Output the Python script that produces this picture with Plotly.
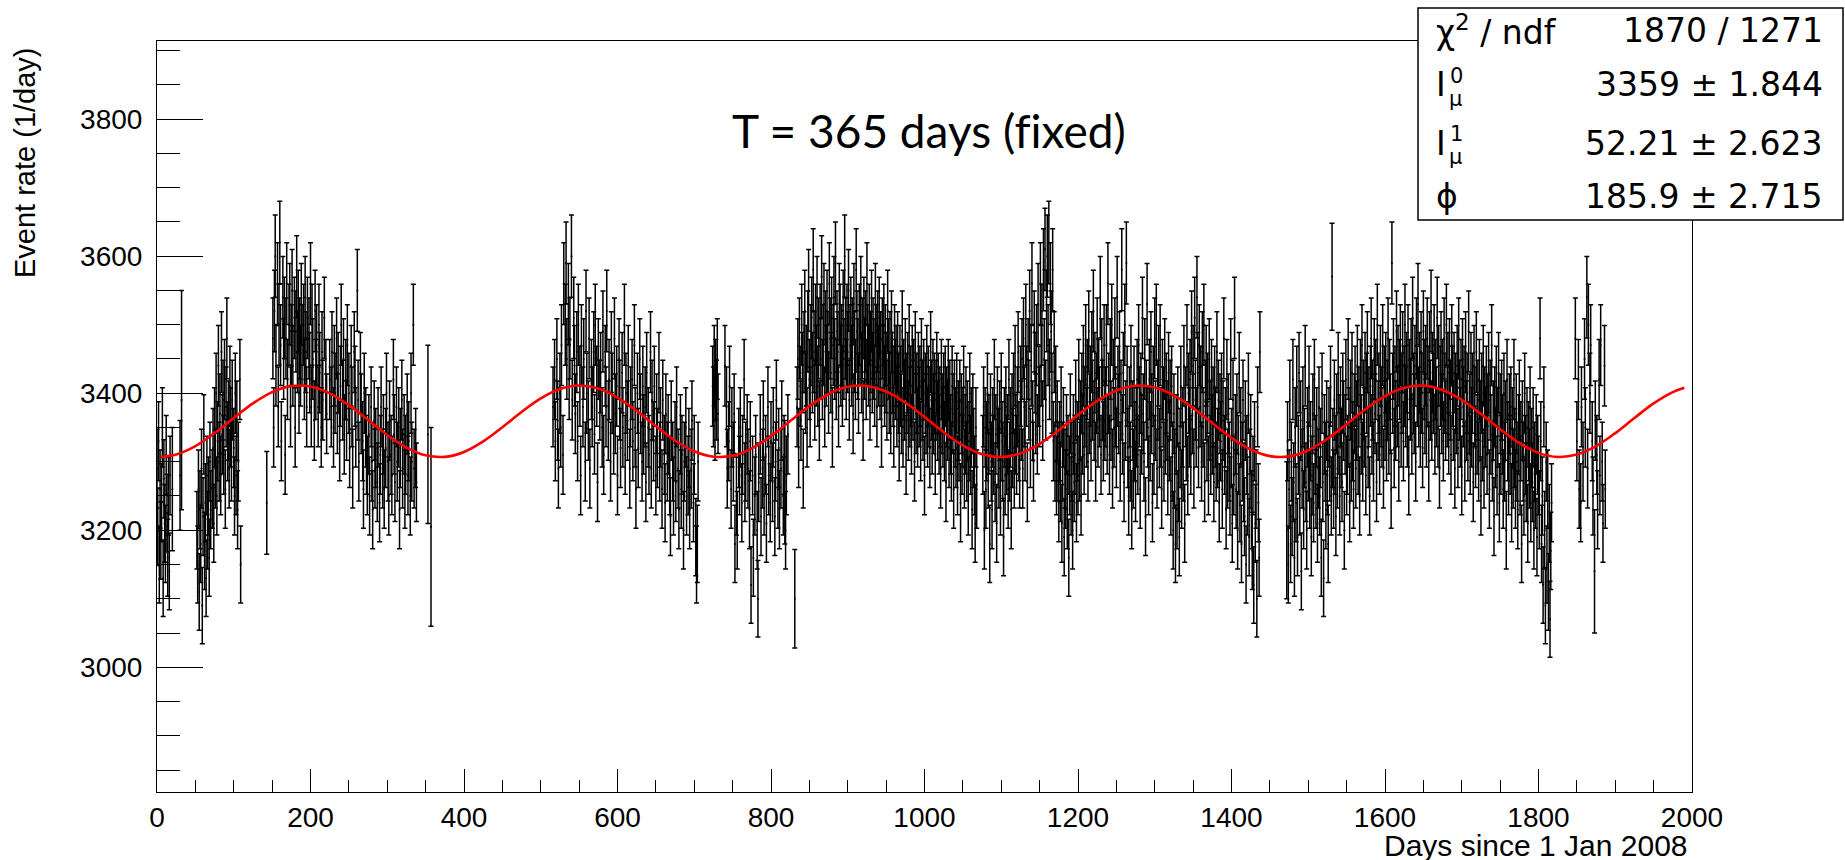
import math
import plotly.graph_objects as go

# ---------------- data ----------------
# Each segment: first day, then one rate per day (None = no data that day)
SEG_A1_START = 0
SEG_A1 = [3290, 3205, 3330, 3150, 3260, 3185, 3240, 3350, 3130, 3275,
          3210, 3180, 3310, 3225, 3160, 3250, 3140, 3280, None, None, 3260]
SEG_A2_START = 30
SEG_A2 = [3280, None, 3390]
SEG_A3_START = 52
SEG_A3 = [3200, 3150, 3260, 3110, 3230, 3180, 3290, 3090, 3220, 3340,
          3170, 3240, 3130, 3280, 3200, 3250, 3160, 3300, 3230, None,
          3260, 3320, 3210, 3350, 3290, 3400, 3250, 3330, 3440, 3300,
          3370, 3280, 3460, 3340, 3390, 3310, 3420, 3260, 3380, 3480,
          3330, 3360, 3290, 3410, 3350, 3300, 3390, None, 3320, 3250,
          3400, 3280, 3360, 3230, 3300, None, 3420, 3150]
SEG_A4_START = 143
SEG_A4 = [3240]
SEG_A5_START = 151
SEG_A5 = [3480, 3350, 3520, 3600, 3440, None, 3560, 3380, 3500, 3620,
          3470, 3330, None, 3540, 3450, 3510, 3310, 3480, 3560, 3420,
          None, 3500, 3530, 3380, 3470, 3550, 3440, None, 3510, 3350,
          3490, 3570, 3460, 3520, 3400, 3480, 3440, 3530, 3470, None,
          3500, 3420, 3540, 3460, 3380, 3510, None, 3480, 3430, 3560,
          3380, 3500, 3450, None, 3360, 3520, 3420, 3470, None, 3380,
          3500, 3430, None, 3350, 3460, 3390, None, 3510, None, 3420,
          3370]
SEG_A6_START = 225
SEG_A6 = [3420, None, 3380, 3460, None, 3350, 3440, 3400, None, 3480,
          3370, 3430, None, 3330, 3410, 3500, None, 3390, 3450, 3340,
          None, 3420, 3360, 3470, None, 3400, 3320, None, 3440, 3380,
          3290, None, 3460, 3410, 3350, None, 3550, 3390, 3300, None,
          3430, 3370, None, 3330, 3260, 3400, None, 3350, 3310, 3280,
          None, 3340, 3250, None, 3380, 3300, 3230, None, 3360, 3290,
          3320, None, 3270, 3350, None, 3240, 3310, 3380, None, 3290,
          3340, 3260, None, 3320, 3400, None, 3300, 3250, 3360, None,
          3310, 3280, None, 3420, 3340, 3270, None, 3380, 3300, None,
          3350, 3230, 3320, None, 3390, 3290, None, 3340, 3260, 3310,
          None, 3370, 3280, 3330, None, 3250, 3400, 3300, None, 3500,
          3290, None, 3320, 3270]
SEG_A7_START = 353
SEG_A7 = [3340, None, None, None, 3205]

SEG_B1_START = 516
SEG_B1 = [3380, None, 3420, 3330, None, 3450, 3360, 3290, None, 3400,
          3350, 3470, None, 3310, 3560, None, 3500, 3590, 3450, None,
          3530, 3420, 3480, None, 3600, 3390, None, 3510, 3440, 3370,
          None, 3460, 3330, 3500, None, 3410, 3280, 3470, None, 3380,
          3450, None, 3300, 3520, 3400, None, 3360, 3480, 3290, None,
          3420, 3380, None, 3460, 3340, 3500, None, 3410, 3270, 3450,
          None, 3390, 3430, None, 3350, 3490, 3310, None, 3440, 3380,
          3520, None, 3360, 3420, None, 3300, 3460, 3400, None, 3340,
          3480, 3370, None, 3410, 3280, None, 3450, 3390, 3320, None,
          3430, 3350, None, 3500, 3310, 3400, None, 3360, 3440, None,
          3290, 3380, None, 3420, 3330, None, 3470, 3350, 3260, None,
          3400, 3320, None, 3450, 3370, None, 3300, 3410, 3340, None,
          3380, 3270, 3430, None, 3350, 3310, None, 3460, 3290, 3390,
          None, 3330, 3410, None, 3280, 3370, 3320, None, 3430, 3300,
          3350, None, 3260, 3390, None, 3310, 3240, 3370, None, 3300,
          3340, None, 3280, 3220, 3360, None, 3300, 3250, None, 3330,
          3270, 3380, None, 3290, 3230, None, 3340, 3260, 3310, None,
          3200, 3300, None, 3350, 3250, None, 3280, 3320, 3230, None,
          3290, 3360, None, 3240, 3310, None, 3190, 3150, 3180, 3300]
SEG_B2_START = 724
SEG_B2 = [3410, 3380, 3440, 3360, 3420, 3390, 3450, 3370]
SEG_B3_START = 740
SEG_B3 = [3440, None, 3380, 3290, None, 3330, 3410, None, 3260, 3350,
          None, 3300, 3370, 3180, None, 3250, 3200, None, 3320, 3280,
          3350, None, 3240, 3310, None, 3420, 3270, 3300, None, 3340,
          3290, None, 3230, 3330, 3120, None, 3280, 3160, None, 3250,
          3310, None, 3200, 3100, 3270, None, 3340, 3220, None, 3290,
          3360, 3250, None, 3310, 3210, None, 3380, 3280, None, 3240,
          3330, None, 3270, 3350, None, 3220, 3300, 3390, None, 3260,
          3320, 3230, None, 3290, 3360, None, 3250, 3310, 3270, 3200,
          3280, None, 3340]
SEG_B4_START = 831
SEG_B4 = [3100]

SEG_C1_START = 834
SEG_C1 = [3380, 3450, 3320, 3480, 3410, 3360, 3500, 3430, 3290, 3460,
          3520, 3400, 3440, 3350, 3490, 3550, 3420, 3380, 3470, 3510,
          3430, 3580, 3460, 3390, 3500, 3440, 3540, 3410, 3480, 3360,
          3500, 3450, 3570, 3420, 3470, 3530, 3380, 3490, 3440, 3520,
          3460, 3400, 3560, 3480, 3430, 3510, 3350, 3470, 3540, 3450,
          3590, 3420, 3490, 3460, 3380, 3530, 3500, 3440, 3470, 3410,
          3520, 3450, 3600, 3480, 3420, 3500, 3460, 3550, 3390, 3470,
          3510, 3440, 3480, 3370, 3530, 3460, 3420, 3580, 3490, 3450,
          3400, 3500, 3470, 3540, 3430, 3480, 3360, 3510, 3450, 3490,
          3420, 3560, 3470, 3440, 3500, 3390, 3460, 3520, 3430, 3480,
          3450, 3410, 3530, 3470, 3380, 3490, 3440, 3510, 3420, 3460,
          3350, 3480, 3440, 3500, 3410, 3470, 3430, 3390, 3520, 3450,
          3400, 3460, 3370, 3490, 3430, 3410, 3350, 3470, 3420, 3440,
          3380, 3460, 3400, 3330, 3440, 3410, 3370, 3490, 3350, 3420,
          3390, 3450, 3310, 3400, 3430, 3360, 3470, 3380, 3410, 3340,
          3440, 3390, 3420, 3300, 3460, 3370, 3400, 3350, 3430, 3380,
          3410, 3330, 3450, 3390, 3360, 3420, 3280, 3400, 3370, 3440,
          3350, 3410, 3380, 3320, 3460, 3390, 3340, 3420, 3370, 3400,
          3310, 3390, 3430, 3360, 3400, 3340, 3380, 3290, 3420, 3370,
          3350, 3400, 3330, 3410, 3270, 3380, 3360, 3420, 3320, 3390,
          3340, 3300, 3410, 3370, 3260, 3390, 3350, 3320, 3400, 3280,
          3360, 3330, 3390, 3240, 3370, 3310, 3350, 3410, 3290, 3340,
          3380, 3300, 3360, 3250, 3330, 3400, 3310, 3350, 3230, 3370,
          3320, 3280, 3210, 3350, 3260]
SEG_C2_START = 1076
SEG_C2 = [3310, 3380, 3200, 3350, 3260, 3330, 3400, 3290, 3340, 3180,
          3370, 3300, 3230, 3350, 3310, 3420, 3270, 3340, 3210, 3380,
          3320, 3290, 3360, 3250, 3400, 3330, 3300, 3190, 3350, 3280,
          3380, 3310, 3340, 3260, 3420, 3300, 3350, 3230, 3370, 3320,
          3400, 3290, 3440, 3340, 3310, 3380, 3460, 3330, 3290, 3410,
          3360, 3450, 3290, 3480, 3380, 3330, 3500, 3410, 3270, 3450,
          3390, 3520, 3320, 3440, 3560, 3360, 3300, 3490, 3430, 3370,
          3470, 3340, 3530, 3410, 3380, 3560, 3440, 3500, 3360, 3580,
          3450, 3610, 3390, 3520, 3600, 3470, 3620, 3420, 3560, 3490,
          3400, 3580, 3330, 3460, 3300, 3410, 3280, 3360, 3300, 3240,
          3330, 3270, 3380, 3210, 3300, 3350, 3190, 3290, 3260, 3340,
          3230, 3310, 3160, 3280, 3370, 3250, 3300, 3200, 3340, 3270,
          3310, 3390, 3240, 3330, 3280, 3420, 3300, 3360, 3250, 3400,
          3340, 3440, 3310, 3380, 3470, 3350, 3420, 3300, 3490, 3370,
          3410, 3330, 3460, 3390, 3520, 3360, 3430, 3300, 3400, 3480,
          3350, 3420, 3380, 3540, 3310, 3450, 3390, 3330, 3470, 3360,
          3380, 3470, 3340, 3560, 3400, 3310, 3450, 3360, 3500, 3290,
          3420, 3350, 3480, 3380, 3320, 3540, 3410, 3370, 3460, 3300,
          3390, 3580, 3340, 3430, 3270, 3500, 3360, 3590, 3410, 3320,
          3250, 3380, 3300, 3440, 3230, 3360, 3290, 3410, 3330, 3270,
          3350, 3420, 3310, 3470, 3380, 3260, 3400, 3340, 3510, 3370,
          3300, 3450, 3220, 3390, 3530, 3350, 3280, 3420, 3330, 3460,
          3370, 3240, 3410, 3310, 3480, 3360, 3500, 3290, 3390, 3440,
          3320, 3470, 3350, 3260, 3420, 3380, 3300, 3450, 3340, 3400,
          3360, 3280, 3430, 3330, 3390, 3250, 3410, 3300, 3200, 3370,
          3290, 3180, 3340, 3230, 3380, 3270, 3190, 3320, 3410, 3260,
          3350, 3300, 3440, 3210, 3380, 3330, 3470, 3280, 3400, 3350,
          3420, 3310, 3490, 3370, 3440, 3290, 3510, 3390, 3350, 3540,
          3430, 3320, 3470, 3380, 3410, 3300, 3460, 3350, 3500, 3270,
          3390, 3440, 3330, 3400, 3280, 3450, 3360, 3310, 3420, 3340,
          3380, 3270, 3410, 3350, 3300, 3460, 3320, 3390, 3240, 3370,
          3330, 3400, 3260, 3360, 3480, 3310, 3350, 3230, 3420, 3290,
          3370, 3300, 3250, 3450, 3320, 3210, 3390, 3280, 3510, 3340,
          3260, 3370, 3200, 3310, 3430, 3240, 3350, 3180, 3300, 3390,
          3270, 3220, 3360, 3150, 3310, 3250, 3400, 3190, 3290, 3340,
          3230, 3170, 3280, 3120, 3330, 3210, 3260, 3100, 3380, 3240,
          3160, 3460]

SEG_E1_START = 1472
SEG_E1 = [3200,
          3330, 3150, 3260, 3390, 3180, 3300, 3220, 3420, 3270, 3160,
          3350, 3240, 3410, 3190, 3310, 3430, 3250, 3360, 3140, 3290,
          3380, 3230, 3320, 3440, 3270, 3200, 3350, 3300, 3410, 3260,
          3330, 3190, 3280, 3370, 3240, 3420, 3310, 3260, 3350, 3210,
          3290, 3380, 3250, 3320, 3160, 3400, 3270, 3130, 3340, 3300,
          3230, 3360, 3280, 3180, 3350, 3300, 3410, 3250, 3570, 3320,
          3260, 3390, 3310, 3220, 3370, 3290, 3430, 3340, 3250, 3380,
          3320, 3270, 3400, 3360, 3200, 3340, 3420, 3280, 3310, 3450,
          3350, 3240, 3390, 3300, 3430, 3330, 3260, 3370, 3410, 3290,
          3360, 3440, 3310, 3380, 3250, 3420, 3340, 3470, 3300, 3390,
          3350, 3430, 3280, 3400, 3460, 3320, 3380, 3250, 3410, 3480,
          3340, 3390, 3300, 3450, 3370, 3420, 3270, 3500, 3360, 3400,
          3310, 3440, 3380, 3350, 3470, 3290, 3410, 3360, 3430, 3330,
          3390, 3480, 3340, 3420, 3370, 3260, 3590, 3400, 3450, 3320,
          3410, 3360, 3490, 3380, 3440, 3300, 3420, 3470, 3350, 3400,
          3460, 3330, 3410, 3500, 3380, 3430, 3350, 3470, 3280, 3420,
          3390, 3450, 3340, 3510, 3400, 3370, 3440, 3300, 3480, 3410,
          3530, 3380, 3430, 3350, 3460, 3400, 3320, 3490, 3420, 3370,
          3440, 3350, 3480, 3410, 3300, 3460, 3390, 3520, 3360, 3430,
          3400, 3470, 3340, 3420, 3380, 3510, 3350, 3440, 3290, 3410,
          3460, 3370, 3420, 3330, 3480, 3400, 3360, 3500, 3380, 3430,
          3340, 3450, 3390, 3310, 3470, 3410, 3360, 3430, 3290, 3400,
          3370, 3440, 3320, 3480, 3390, 3350, 3420, 3280, 3450, 3380,
          3410, 3300, 3460, 3360, 3400, 3330, 3490, 3370, 3310, 3430,
          3350, 3400, 3270, 3440, 3380, 3320, 3460, 3340, 3390, 3300,
          3420, 3360, 3250, 3400, 3330, 3440, 3290, 3380, 3350, 3410,
          3310, 3370, 3430, 3260, 3390, 3340, 3470, 3300, 3360, 3220,
          3380, 3320, 3410, 3280, 3350, 3430, 3240, 3370, 3310, 3390,
          3340, 3260, 3400, 3300, 3360, 3200, 3420, 3330, 3280, 3370,
          3310, 3380, 3240, 3350, 3290, 3420, 3320, 3260, 3370, 3300,
          3230, 3340, 3390, 3280, 3330, 3180, 3360, 3300, 3250, 3400,
          3310, 3270, 3350, 3210, 3330, 3290, 3380, 3240, 3320, 3270,
          3350, 3200, 3300, 3260, 3340, 3190, 3310, 3280, 3230, 3480,
          3330, 3180, 3250, 3120, 3380, 3200, 3090, 3300, 3150, 3260,
          3110, 3210, 3070, 3170, 3240]
SEG_E2_START = 1848
SEG_E2 = [3480, None, 3330, None, 3420, 3260, None, 3240, 3380, None,
          3300, None, 3450, 3350, None, 3540, 3290, 3500, None, 3400,
          3470, None, 3330, 3250, None, 3140, 3360, None, 3310, 3230,
          None, 3420, 3280, 3470, None, 3300, 3210, None, 3440, 3260]

# days with shortened live time -> larger error bars
ERR_LARGE = {20: 90, 30: 80, 32: 160, 143: 75, 353: 130, 357: 145,
             818: 90, 831: 72, 1472: 100, 1531: 78, 1873: 90}

FIT_DAYS = [5] + list(range(25, 2000, 25)) + [1990]
FIT_RATE = [3306.8, 3310.4, 3322.7, 3341.7, 3363.8, 3385.1, 3401.6, 3410.3, 3409.7, 3399.8,
            3382.5, 3360.9, 3339.0, 3320.7, 3309.4, 3307.1, 3314.3, 3329.7, 3350.4, 3372.6,
            3392.4, 3406.1, 3411.2, 3406.8, 3393.7, 3374.2, 3352.0, 3331.0, 3315.2, 3307.3,
            3308.9, 3319.6, 3337.5, 3359.3, 3381.1, 3398.8, 3409.3, 3410.6, 3402.5, 3386.4,
            3365.4, 3343.2, 3323.9, 3311.0, 3306.8, 3312.2, 3326.1, 3346.0, 3368.3, 3388.8,
            3404.0, 3410.9, 3408.4, 3396.9, 3378.4, 3356.4, 3334.9, 3317.8, 3308.2, 3307.8,
            3316.8, 3333.5, 3354.8, 3376.9, 3395.7, 3407.9, 3411.1, 3404.8, 3390.2, 3369.8,
            3347.5, 3327.3, 3312.9, 3306.9, 3310.4, 3322.7, 3341.7, 3363.8, 3385.1, 3401.6,
            3407.9]

STATS_NAMES = ["χ<sup>2</sup> / ndf", "I", "I", "ϕ"]
STATS_VALUES = ["1870 / 1271", "3359 ± 1.844", "52.21 ± 2.623", "185.9 ± 2.715"]
TITLE_TEXT = "T = 365 days (f\u200cixed)"
X_TITLE = "Days since 1 Jan 2008"
Y_TITLE = "Event rate (1/day)"

# ---------------- build series ----------------
segments = [(SEG_A1_START, SEG_A1), (SEG_A2_START, SEG_A2), (SEG_A3_START, SEG_A3),
            (SEG_A4_START, SEG_A4), (SEG_A5_START, SEG_A5), (SEG_A6_START, SEG_A6),
            (SEG_A7_START, SEG_A7), (SEG_B1_START, SEG_B1), (SEG_B2_START, SEG_B2),
            (SEG_B3_START, SEG_B3), (SEG_B4_START, SEG_B4), (SEG_C1_START, SEG_C1),
            (SEG_C2_START, SEG_C2), (SEG_E1_START, SEG_E1), (SEG_E2_START, SEG_E2)]
days, rates, errs = [], [], []
for start, vals in segments:
    for i, v in enumerate(vals):
        if v is None:
            continue
        d = start + i
        days.append(d)
        rates.append(v)
        errs.append(ERR_LARGE.get(d, math.sqrt(v)))

W, H = 1845, 860
L, R, T, B = 157, 1692, 41, 792


def px(x):
    return (x - L) / (R - L)


def py(y):
    return (B - y) / (B - T)


FONT = "Liberation Sans, Arial, Helvetica, sans-serif"
SFONT = "DejaVu Sans, Liberation Sans, sans-serif"

fig = go.Figure()
fig.add_trace(go.Scatter(
    x=days, y=rates, mode="markers",
    marker=dict(color="black", size=2),
    error_y=dict(type="data", array=errs, visible=True, color="black",
                 thickness=1.5, width=2.5),
    hoverinfo="skip", showlegend=False))
fig.add_trace(go.Scatter(
    x=FIT_DAYS, y=FIT_RATE, mode="lines",
    line=dict(color="#ff0000", width=2.6, shape="spline"),
    hoverinfo="skip", showlegend=False))

axis_common = dict(showline=True, linecolor="black", linewidth=1, mirror=True,
                   showgrid=False, zeroline=False, ticks="inside",
                   tickcolor="black", tickwidth=1,
                   tickfont=dict(family=FONT, size=28, color="black"))
fig.update_xaxes(range=[0, 2000], tick0=0, dtick=200, ticklen=23,
                 minor=dict(dtick=50, ticks="inside", ticklen=12, tickcolor="black", tickwidth=1),
                 **axis_common)
fig.update_yaxes(range=[2818, 3914], tick0=3000, dtick=200, ticklen=46,
                 ticklabelstandoff=8,
                 minor=dict(dtick=50, ticks="inside", ticklen=23, tickcolor="black", tickwidth=1),
                 **axis_common)

ann = []
ann.append(dict(text=TITLE_TEXT, x=px(929), y=py(130), xref="paper", yref="paper",
                xanchor="center", yanchor="middle", showarrow=False,
                font=dict(family="Lato, Open Sans, sans-serif", size=46, color="black")))
ann.append(dict(text=Y_TITLE, x=px(25), y=py(163), xref="paper", yref="paper",
                xanchor="center", yanchor="middle", textangle=-90, showarrow=False,
                font=dict(family=FONT, size=29, color="black")))
ann.append(dict(text=X_TITLE, x=px(1690), y=py(845), xref="paper", yref="paper",
                xanchor="right", yanchor="middle", showarrow=False,
                font=dict(family=FONT, size=30, color="black")))

row_y = [30, 85, 143, 197]
SF = 33
for i, (name, val) in enumerate(zip(STATS_NAMES, STATS_VALUES)):
    ann.append(dict(text=name, x=px(1434), y=py(row_y[i]), xref="paper", yref="paper",
                    xanchor="left", yanchor="middle", showarrow=False,
                    font=dict(family=SFONT, size=SF, color="black")))
    ann.append(dict(text=val, x=px(1825), y=py(row_y[i]), xref="paper", yref="paper",
                    xanchor="right", yanchor="middle", showarrow=False,
                    font=dict(family=SFONT, size=SF, color="black")))
# superscripts / subscripts of I_mu^0 and I_mu^1
for r, sup in ((1, "0"), (2, "1")):
    ann.append(dict(text=sup, x=px(1448), y=py(row_y[r] - 9), xref="paper", yref="paper",
                    xanchor="left", yanchor="middle", showarrow=False,
                    font=dict(family=SFONT, size=21, color="black")))
    ann.append(dict(text="μ", x=px(1447), y=py(row_y[r] + 14), xref="paper", yref="paper",
                    xanchor="left", yanchor="middle", showarrow=False,
                    font=dict(family=SFONT, size=21, color="black")))

shapes = [dict(type="rect", xref="paper", yref="paper",
               x0=px(1418), x1=px(1843), y0=py(220), y1=py(8),
               line=dict(color="black", width=1.5), fillcolor="white", layer="above")]

fig.update_layout(width=W, height=H, autosize=False,
                  margin=dict(l=L, r=W - R, t=T, b=H - B, pad=0),
                  paper_bgcolor="white", plot_bgcolor="white",
                  annotations=ann, shapes=shapes, showlegend=False)

fig.write_html("out.html")
